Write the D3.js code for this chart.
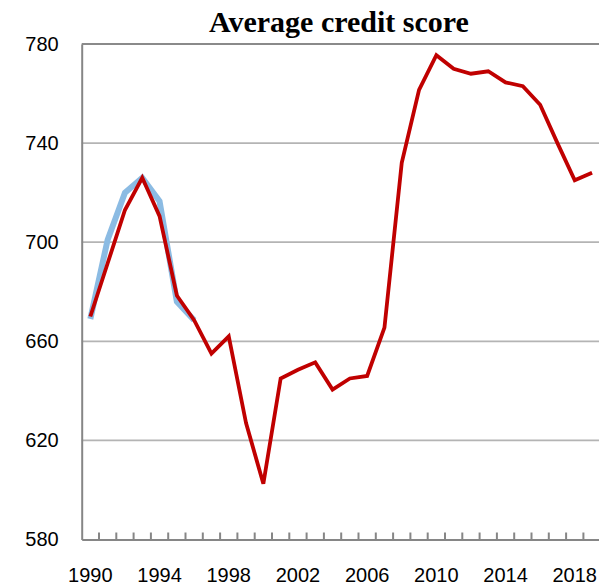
<!DOCTYPE html>
<html>
<head>
<meta charset="utf-8">
<script src="https://cdn.jsdelivr.net/npm/d3@7"></script>
<style>
  html, body { margin: 0; padding: 0; background: #fff; }
  svg { display: block; }
</style>
</head>
<body>
<svg id="chart" width="599" height="587"></svg>
<script>
const years = d3.range(1990, 2020);
const scores = [670, 691.5, 713, 726, 710.5, 678.5, 668.5, 655, 662, 627,
                602.5, 645, 648.5, 651.5, 640.5, 645, 646, 665.5, 732, 761.5,
                775.5, 770, 768, 769, 764.5, 763, 755.5, 740, 725, 728];
const altYears = [1990, 1991, 1992, 1993, 1994, 1995, 1996];
const altScores = [669, 701, 720, 726, 716.5, 676, 668.5];
const yTicks = [580, 620, 660, 700, 740, 780];
const xLabels = [1990, 1994, 1998, 2002, 2006, 2010, 2014, 2018];
const title = "Average credit score";

const svg = d3.select("#chart");

const x = d3.scaleBand().domain(years).range([81.7, 600.7]).padding(0);
const y = d3.scaleLinear().domain([580, 780]).range([539.5, 44]);
const cx = d => x(d) + x.bandwidth() / 2;

// gridlines
svg.append("g").selectAll("line")
  .data(yTicks.filter(v => v !== 580 && v !== 780))
  .join("line")
  .attr("x1", 81.7).attr("x2", 599)
  .attr("y1", d => y(d)).attr("y2", d => y(d))
  .attr("stroke", "#b4b4b4").attr("stroke-width", 1.8);

// top line (darker)
svg.append("line")
  .attr("x1", 81.7).attr("x2", 599)
  .attr("y1", y(780)).attr("y2", y(780))
  .attr("stroke", "#8a8a8a").attr("stroke-width", 2);

// y axis
const yAxis = svg.append("g")
  .attr("transform", "translate(81.7,0)")
  .call(d3.axisLeft(y).tickValues(yTicks).tickSize(0).tickPadding(23).tickFormat(d3.format("d")));
yAxis.select(".domain").attr("stroke", "#868686").attr("stroke-width", 2);
yAxis.selectAll("text")
  .attr("font-family", "Liberation Sans, Arial, sans-serif")
  .attr("font-size", 20).attr("fill", "#000");

// x axis
const xAxis = svg.append("g")
  .attr("transform", `translate(0,${y(580)})`)
  .call(d3.axisBottom(x).tickValues(xLabels).tickSize(0).tickPadding(28).tickFormat(d3.format("d")));
xAxis.select(".domain").attr("stroke", "#868686").attr("stroke-width", 2);
xAxis.selectAll("text")
  .attr("font-family", "Liberation Sans, Arial, sans-serif")
  .attr("font-size", 20).attr("fill", "#000");

// inward tick marks at category boundaries
svg.append("g").selectAll("line")
  .data(years.slice(1))
  .join("line")
  .attr("x1", d => x(d)).attr("x2", d => x(d))
  .attr("y1", y(580)).attr("y2", y(580) - 7)
  .attr("stroke", "#868686").attr("stroke-width", 2);

// lines
const line = d3.line().x(d => cx(d[0])).y(d => y(d[1]));

svg.append("path")
  .datum(altYears.map((yr, i) => [yr, altScores[i]]))
  .attr("d", line)
  .attr("fill", "none")
  .attr("stroke", "#8bbbe3")
  .attr("stroke-width", 6)
  .attr("stroke-linejoin", "miter");

svg.append("path")
  .datum(years.map((yr, i) => [yr, scores[i]]))
  .attr("d", line)
  .attr("fill", "none")
  .attr("stroke", "#c00000")
  .attr("stroke-width", 3.8)
  .attr("stroke-linejoin", "miter");

// title
svg.append("text")
  .attr("x", 339).attr("y", 32)
  .attr("text-anchor", "middle")
  .attr("font-family", "Liberation Serif, Times New Roman, serif")
  .attr("font-weight", "bold")
  .attr("font-size", 30)
  .attr("fill", "#000")
  .text(title);
</script>
</body>
</html>
